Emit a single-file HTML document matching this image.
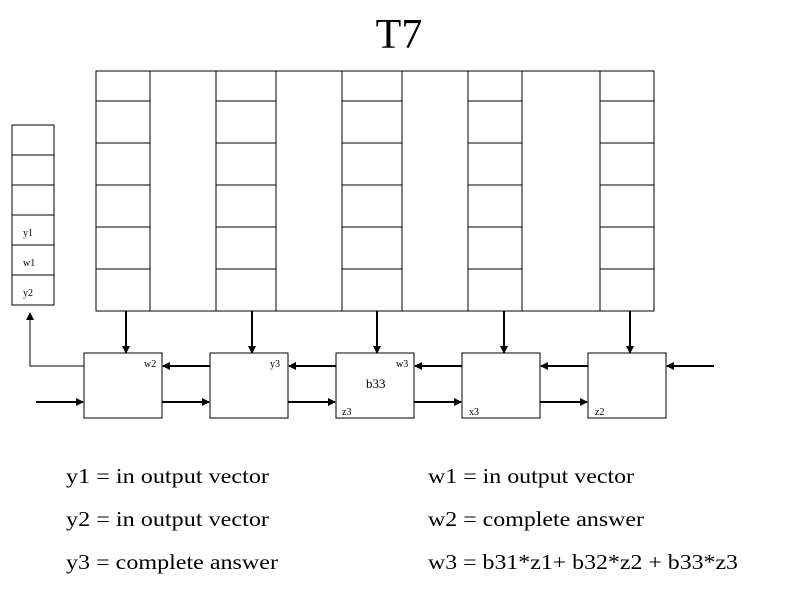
<!DOCTYPE html>
<html><head><style>body{margin:0;background:#fff}</style></head><body>
<svg width="794" height="595" xmlns="http://www.w3.org/2000/svg" font-family="Liberation Serif, serif">
<defs><marker id="a" markerWidth="8" markerHeight="8" refX="7" refY="4" orient="auto" markerUnits="userSpaceOnUse"><path d="M0,0 L8,4 L0,8 z" fill="#000"/></marker></defs>
<text x="399" y="48" font-size="42" text-anchor="middle">T7</text>
<g fill="none" stroke="#000" stroke-width="1">
<rect x="96" y="71" width="558" height="240"/>
<line x1="96" y1="101" x2="150" y2="101"/><line x1="96" y1="143" x2="150" y2="143"/><line x1="96" y1="185" x2="150" y2="185"/><line x1="96" y1="227" x2="150" y2="227"/><line x1="96" y1="269" x2="150" y2="269"/>
<line x1="150" y1="71" x2="150" y2="311"/>
<rect x="216" y="71" width="60" height="240"/>
<line x1="216" y1="101" x2="276" y2="101"/><line x1="216" y1="143" x2="276" y2="143"/><line x1="216" y1="185" x2="276" y2="185"/><line x1="216" y1="227" x2="276" y2="227"/><line x1="216" y1="269" x2="276" y2="269"/>
<rect x="342" y="71" width="60" height="240"/>
<line x1="342" y1="101" x2="402" y2="101"/><line x1="342" y1="143" x2="402" y2="143"/><line x1="342" y1="185" x2="402" y2="185"/><line x1="342" y1="227" x2="402" y2="227"/><line x1="342" y1="269" x2="402" y2="269"/>
<rect x="468" y="71" width="54" height="240"/>
<line x1="468" y1="101" x2="522" y2="101"/><line x1="468" y1="143" x2="522" y2="143"/><line x1="468" y1="185" x2="522" y2="185"/><line x1="468" y1="227" x2="522" y2="227"/><line x1="468" y1="269" x2="522" y2="269"/>
<line x1="600" y1="71" x2="600" y2="311"/>
<line x1="600" y1="101" x2="654" y2="101"/><line x1="600" y1="143" x2="654" y2="143"/><line x1="600" y1="185" x2="654" y2="185"/><line x1="600" y1="227" x2="654" y2="227"/><line x1="600" y1="269" x2="654" y2="269"/>
<rect x="12" y="125" width="42" height="180"/>
<line x1="12" y1="155" x2="54" y2="155"/><line x1="12" y1="185" x2="54" y2="185"/><line x1="12" y1="215" x2="54" y2="215"/><line x1="12" y1="245" x2="54" y2="245"/><line x1="12" y1="275" x2="54" y2="275"/>
<rect x="84" y="353" width="78" height="65"/>
<rect x="210" y="353" width="78" height="65"/>
<rect x="336" y="353" width="78" height="65"/>
<rect x="462" y="353" width="78" height="65"/>
<rect x="588" y="353" width="78" height="65"/>
<polyline points="84,366 30,366 30,314"/>
</g>
<g stroke="#000" stroke-width="2" marker-end="url(#a)">
<line x1="126" y1="311" x2="126" y2="353"/><line x1="252" y1="311" x2="252" y2="353"/><line x1="377" y1="311" x2="377" y2="353"/><line x1="504" y1="311" x2="504" y2="353"/><line x1="630" y1="311" x2="630" y2="353"/>
<line x1="210" y1="366" x2="163" y2="366"/><line x1="336" y1="366" x2="289" y2="366"/><line x1="462" y1="366" x2="415" y2="366"/><line x1="588" y1="366" x2="541" y2="366"/><line x1="714" y1="366" x2="667" y2="366"/>
<line x1="36" y1="402" x2="83" y2="402"/><line x1="162" y1="402" x2="209" y2="402"/><line x1="288" y1="402" x2="335" y2="402"/><line x1="414" y1="402" x2="461" y2="402"/><line x1="540" y1="402" x2="587" y2="402"/>
</g>
<g stroke="#000" stroke-width="1" marker-end="url(#a)"><line x1="30" y1="330" x2="30" y2="313"/></g>
<g font-size="10">
<text x="23" y="236">y1</text><text x="23" y="266">w1</text><text x="23" y="296">y2</text>
<text x="144" y="367">w2</text><text x="270" y="367">y3</text><text x="396" y="367">w3</text>
<text x="342" y="415">z3</text><text x="469" y="415">x3</text><text x="595" y="415">z2</text>
</g>
<text x="366" y="388" font-size="13">b33</text>
<g font-size="21" lengthAdjust="spacingAndGlyphs">
<text x="66" y="483" textLength="203" lengthAdjust="spacingAndGlyphs">y1 = in output vector</text><text x="428" y="483" textLength="206" lengthAdjust="spacingAndGlyphs">w1 = in output vector</text>
<text x="66" y="526" textLength="203" lengthAdjust="spacingAndGlyphs">y2 = in output vector</text><text x="428" y="526" textLength="216" lengthAdjust="spacingAndGlyphs">w2 = complete answer</text>
<text x="66" y="569" textLength="212" lengthAdjust="spacingAndGlyphs">y3 = complete answer</text><text x="428" y="569" textLength="310" lengthAdjust="spacingAndGlyphs">w3 = b31*z1+ b32*z2 + b33*z3</text>
</g>
</svg>
</body></html>
